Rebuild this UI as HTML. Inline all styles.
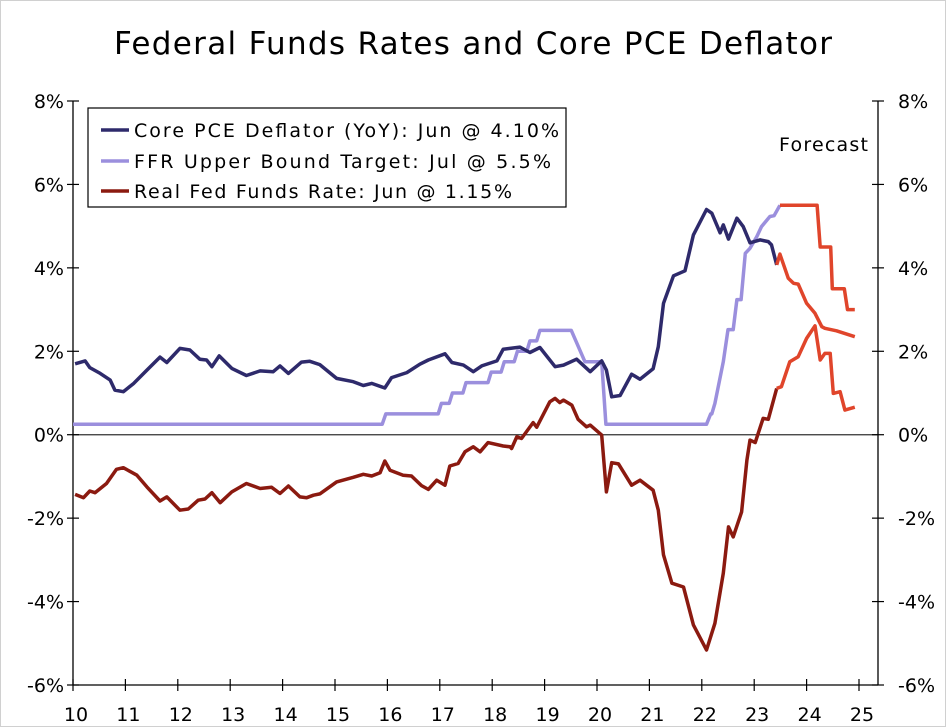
<!DOCTYPE html>
<html><head><meta charset="utf-8"><style>
html,body{margin:0;padding:0;background:#fff}
svg{display:block}
text{font-family:"DejaVu Sans","Liberation Sans",sans-serif;fill:#000}
</style></head><body>
<svg id="chart" width="947" height="727" viewBox="0 0 947 727">
<rect x="0.5" y="0.5" width="945" height="726" fill="#fff" stroke="#d0d0d0"/>
<text x="473" y="54" font-size="31" text-anchor="middle" textLength="718">Federal Funds Rates and Core PCE Deflator</text>
<g id="axes"></g>
<g id="series"></g>
<rect x="88" y="108" width="478" height="99" fill="#fff" stroke="#000" stroke-width="1.2"/>
<g><line x1="101" y1="130" x2="129" y2="130" stroke="#2e2a6b" stroke-width="3.5"/><text x="134" y="137" font-size="19" textLength="425">Core PCE Deflator (YoY): Jun @ 4.10%</text></g>
<g><line x1="101" y1="161" x2="129" y2="161" stroke="#9b8fdd" stroke-width="3.5"/><text x="134" y="168" font-size="19" textLength="417">FFR Upper Bound Target: Jul @ 5.5%</text></g>
<g><line x1="101" y1="191" x2="129" y2="191" stroke="#8b1a10" stroke-width="3.5"/><text x="134" y="198" font-size="19" textLength="378">Real Fed Funds Rate: Jun @ 1.15%</text></g>
<text x="779" y="151" font-size="19" textLength="89">Forecast</text>
</svg>
<script>
const yTicks=[8,6,4,2,0,-2,-4,-6];
const yTickLabels=["8%","6%","4%","2%","0%","-2%","-4%","-6%"];
const xTicks=[2010,2011,2012,2013,2014,2015,2016,2017,2018,2019,2020,2021,2022,2023,2024,2025];
const xTickLabels=["10","11","12","13","14","15","16","17","18","19","20","21","22","23","24","25"];
const pceT=[2010.04,2010.23,2010.32,2010.52,2010.71,2010.80,2010.96,2011.15,2011.41,2011.66,2011.79,2012.04,2012.23,2012.42,2012.55,2012.65,2012.79,2013.03,2013.31,2013.57,2013.82,2013.95,2014.11,2014.36,2014.52,2014.71,2015.03,2015.35,2015.54,2015.70,2015.95,2016.08,2016.37,2016.62,2016.78,2017.10,2017.23,2017.45,2017.64,2017.80,2018.09,2018.21,2018.34,2018.53,2018.72,2018.91,2019.20,2019.36,2019.61,2019.87,2020.09,2020.18,2020.28,2020.44,2020.66,2020.82,2021.07,2021.17,2021.27,2021.46,2021.68,2021.84,2022.09,2022.19,2022.35,2022.41,2022.51,2022.67,2022.79,2022.92,2023.11,2023.27,2023.33,2023.43];
const pceV=[1.70,1.77,1.61,1.47,1.31,1.07,1.03,1.22,1.55,1.86,1.73,2.07,2.03,1.81,1.79,1.63,1.89,1.59,1.42,1.53,1.51,1.65,1.47,1.74,1.76,1.68,1.35,1.27,1.18,1.23,1.12,1.37,1.49,1.69,1.79,1.94,1.73,1.67,1.51,1.65,1.77,2.05,2.07,2.10,1.97,2.09,1.63,1.67,1.81,1.51,1.77,1.55,0.91,0.94,1.45,1.33,1.58,2.11,3.15,3.81,3.93,4.79,5.40,5.31,4.84,5.03,4.69,5.19,4.99,4.60,4.67,4.63,4.55,4.07];
const pceFcT=[2023.43,2023.49,2023.65,2023.75,2023.84,2024.00,2024.16,2024.29,2024.35,2024.57,2024.92];
const pceFcV=[4.07,4.33,3.75,3.63,3.61,3.15,2.91,2.59,2.55,2.49,2.35];
const ffrT=[2010.0,2015.90,2015.97,2016.97,2017.03,2017.18,2017.24,2017.44,2017.50,2017.92,2017.98,2018.17,2018.23,2018.42,2018.48,2018.66,2018.72,2018.85,2018.91,2019.51,2019.77,2020.09,2020.17,2022.09,2022.17,2022.19,2022.25,2022.41,2022.50,2022.60,2022.67,2022.75,2022.83,2022.92,2023.05,2023.14,2023.30,2023.38,2023.49];
const ffrV=[0.25,0.25,0.5,0.5,0.75,0.75,1.0,1.0,1.25,1.25,1.5,1.5,1.75,1.75,2.0,2.0,2.25,2.25,2.5,2.5,1.75,1.75,0.25,0.25,0.5,0.5,0.75,1.75,2.52,2.52,3.24,3.24,4.35,4.47,4.75,4.99,5.23,5.25,5.5];
const ffrFcT=[2023.49,2024.20,2024.26,2024.46,2024.49,2024.72,2024.78,2024.92];
const ffrFcV=[5.5,5.5,4.5,4.5,3.5,3.5,3.0,3.0];
const realT=[2010.04,2010.20,2010.32,2010.42,2010.64,2010.83,2010.96,2011.22,2011.41,2011.66,2011.79,2012.04,2012.20,2012.39,2012.52,2012.65,2012.81,2013.03,2013.31,2013.57,2013.79,2013.95,2014.11,2014.33,2014.46,2014.59,2014.71,2015.03,2015.35,2015.54,2015.70,2015.86,2015.95,2016.05,2016.30,2016.46,2016.65,2016.78,2016.94,2017.10,2017.19,2017.35,2017.48,2017.64,2017.77,2017.92,2018.21,2018.34,2018.37,2018.47,2018.56,2018.78,2018.85,2019.10,2019.20,2019.29,2019.36,2019.52,2019.64,2019.80,2019.87,2020.09,2020.18,2020.28,2020.41,2020.66,2020.82,2021.07,2021.17,2021.27,2021.43,2021.65,2021.84,2022.09,2022.25,2022.41,2022.51,2022.60,2022.76,2022.86,2022.92,2023.02,2023.17,2023.27,2023.43];
const realV=[-1.43,-1.51,-1.35,-1.39,-1.17,-0.83,-0.79,-0.97,-1.25,-1.59,-1.49,-1.81,-1.78,-1.57,-1.54,-1.39,-1.63,-1.37,-1.17,-1.29,-1.26,-1.41,-1.23,-1.49,-1.51,-1.45,-1.42,-1.13,-1.02,-0.95,-0.99,-0.91,-0.63,-0.85,-0.97,-0.99,-1.22,-1.31,-1.09,-1.21,-0.75,-0.69,-0.41,-0.29,-0.41,-0.19,-0.27,-0.29,-0.33,-0.05,-0.09,0.29,0.18,0.79,0.87,0.77,0.83,0.71,0.37,0.19,0.23,-0.01,-1.37,-0.67,-0.70,-1.21,-1.09,-1.33,-1.81,-2.88,-3.56,-3.65,-4.56,-5.16,-4.52,-3.32,-2.21,-2.45,-1.85,-0.61,-0.13,-0.19,0.39,0.37,1.11];
const realFcT=[2023.43,2023.52,2023.68,2023.84,2024.00,2024.16,2024.26,2024.35,2024.45,2024.51,2024.64,2024.73,2024.92];
const realFcV=[1.11,1.15,1.75,1.87,2.31,2.61,1.79,1.95,1.95,0.99,1.03,0.59,0.66];

const NS="http://www.w3.org/2000/svg";
const X0=73,X1=878,Y0=101,Y1=685;
function xs(t){return X0+(t-2010)*52.4;}
function ys(v){return Y0+(8-v)*(Y1-Y0)/14;}
function mk(tag,attrs,parent){const e=document.createElementNS(NS,tag);for(const k in attrs)e.setAttribute(k,attrs[k]);parent.appendChild(e);return e;}
const axes=document.getElementById('axes');
const ser=document.getElementById('series');
let e;
e=mk('line',{x1:X0,y1:Y0,x2:X0,y2:Y1,stroke:'#000','stroke-width':1.3},axes);


e=mk('line',{x1:X1,y1:Y0,x2:X1,y2:Y1,stroke:'#000','stroke-width':1.3},axes);


e=mk('line',{x1:X0,y1:Y1,x2:X1,y2:Y1,stroke:'#000','stroke-width':1.3},axes);


e=mk('line',{x1:X0,y1:ys(0),x2:X1,y2:ys(0),stroke:'#333','stroke-width':1.3},axes);


yTicks.forEach((v,i)=>{
  const y=ys(v);
  mk('line',{x1:X0-6,y1:y,x2:X0+6,y2:y,stroke:'#000','stroke-width':1.2},axes);
  mk('line',{x1:X1-6,y1:y,x2:X1+6,y2:y,stroke:'#000','stroke-width':1.2},axes);
  let t=mk('text',{x:64,y:y+7,'font-size':19,'text-anchor':'end'},axes);t.textContent=yTickLabels[i];
  
  
  t=mk('text',{x:898,y:y+7,'font-size':19},axes);t.textContent=yTickLabels[i];
  
  
});
xTicks.forEach((tv,i)=>{
  const x=xs(tv);
  mk('line',{x1:x,y1:Y1-6,x2:x,y2:Y1+6,stroke:'#000','stroke-width':1.2},axes);
  const t=mk('text',{x:x+3,y:721,'font-size':19,'text-anchor':'middle'},axes);t.textContent=xTickLabels[i];
  
  
});
function line(T,V,color,name){
  const d=T.map((t,i)=>(i?'L':'M')+xs(t).toFixed(1)+','+ys(V[i]).toFixed(1)).join('');
  const p=mk('path',{d:d,fill:'none',stroke:color,'stroke-width':3.5,'stroke-linejoin':'round'},ser);
  
  
}
line(ffrT,ffrV,'#9b8fdd','ffr-line');
line(realT,realV,'#8b1a10','real-ffr-line');
line(pceT,pceV,'#2e2a6b','core-pce-line');
line(ffrFcT,ffrFcV,'#e0452b','ffr-forecast-line');
line(realFcT,realFcV,'#e0452b','real-ffr-forecast-line');
line(pceFcT,pceFcV,'#e0452b','core-pce-forecast-line');
</script>
</body></html>
